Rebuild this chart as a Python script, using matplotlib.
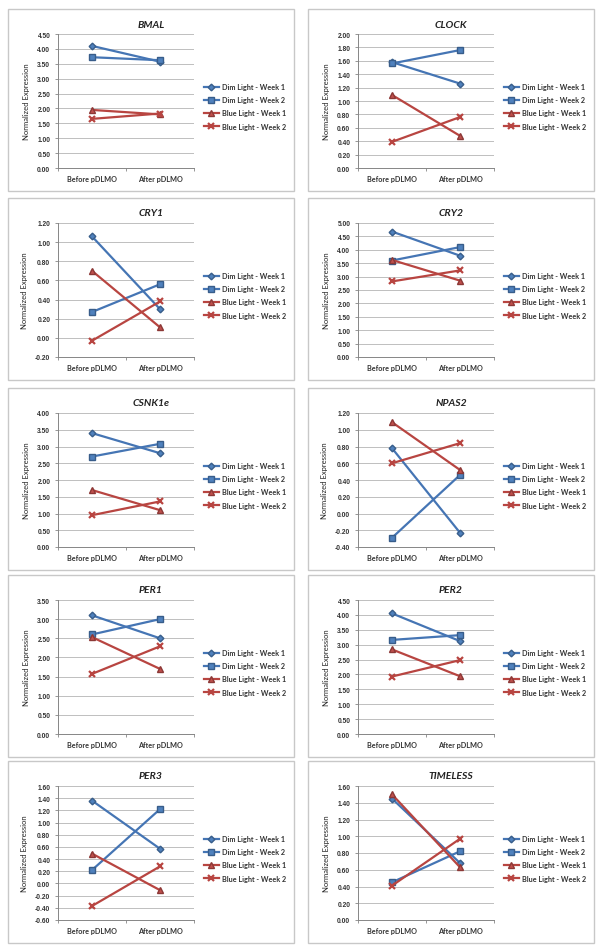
import matplotlib.pyplot as plt
import matplotlib.patches as patches
import numpy as np

genes = ['BMAL', 'CLOCK', 'CRY1', 'CRY2', 'CSNK1e', 'NPAS2', 'PER1', 'PER2', 'PER3', 'TIMELESS']
categories = ['Before pDLMO', 'After pDLMO']
series_labels = ['Dim Light - Week 1', 'Dim Light - Week 2', 'Blue Light - Week 1', 'Blue Light - Week 2']

dim_w1_before = [4.10, 1.58, 1.06, 4.68, 3.40, 0.78, 3.10, 4.05, 1.36, 1.45]
dim_w1_after = [3.57, 1.26, 0.30, 3.78, 2.80, -0.23, 2.50, 3.12, 0.57, 0.68]
dim_w2_before = [3.72, 1.56, 0.27, 3.60, 2.70, -0.29, 2.60, 3.16, 0.22, 0.45]
dim_w2_after = [3.62, 1.76, 0.56, 4.10, 3.08, 0.46, 3.00, 3.32, 1.22, 0.82]
blue_w1_before = [1.95, 1.09, 0.70, 3.62, 1.70, 1.09, 2.53, 2.84, 0.49, 1.50]
blue_w1_after = [1.80, 0.48, 0.11, 2.85, 1.10, 0.52, 1.70, 1.94, -0.11, 0.63]
blue_w2_before = [1.65, 0.39, -0.03, 2.82, 0.95, 0.60, 1.57, 1.93, -0.37, 0.41]
blue_w2_after = [1.83, 0.76, 0.38, 3.23, 1.36, 0.84, 2.29, 2.48, 0.28, 0.97]

y_min = [0, 0, -0.2, 0, 0, -0.4, 0, 0, -0.6, 0]
y_max = [4.5, 2.0, 1.2, 5.0, 4.0, 1.2, 3.5, 4.5, 1.6, 1.6]
y_step = [0.5, 0.2, 0.2, 0.5, 0.5, 0.2, 0.5, 0.5, 0.2, 0.2]

W, H = 600, 953
BLUE = '#4575B4'
RED = '#B84541'
styles = [
    dict(color=BLUE, marker='D', markersize=3.4, mfc='#4F81BD', mec='#385D8A'),
    dict(color=BLUE, marker='s', markersize=4.6, mfc='#4F81BD', mec='#385D8A'),
    dict(color=RED, marker='^', markersize=4.6, mfc='#C0504D', mec='#8C3836'),
    dict(color=RED, marker='x', markersize=4.0, mec='#B84541', mew=1.6),
]

plt.rcParams['font.family'] = ['Lato', 'DejaVu Sans']
TICKFONT = ['Liberation Sans', 'DejaVu Sans']

fig = plt.figure(figsize=(W / 100, H / 100), dpi=100)

row_tops = [10, 199, 389, 576, 762]
col_lefts = [8, 308]
box_w, box_h = 286, 182


def fx(px):
    return px / W


def fy(px):
    return 1 - px / H


for i, gene in enumerate(genes):
    r, c = divmod(i, 2)
    x0, y0 = col_lefts[c], row_tops[r]
    # panel frame
    fig.patches.append(patches.Rectangle((fx(x0), fy(y0 + box_h)), box_w / W, box_h / H,
                                         transform=fig.transFigure, fill=False,
                                         edgecolor='#C8C8C8', lw=1.0))
    ax = fig.add_axes([fx(x0 + 50), fy(y0 + 25 + 134), 136 / W, 134 / H])
    vals = [(dim_w1_before[i], dim_w1_after[i]), (dim_w2_before[i], dim_w2_after[i]),
            (blue_w1_before[i], blue_w1_after[i]), (blue_w2_before[i], blue_w2_after[i])]
    for v, lab, st in zip(vals, series_labels, styles):
        ax.plot([0, 1], v, lw=1.6, label=lab, **st)

    ticks = np.round(np.arange(y_min[i], y_max[i] + y_step[i] / 2, y_step[i]), 2)
    ax.set_ylim(y_min[i], y_max[i])
    ax.set_yticks(ticks)
    ax.set_yticklabels(['%.2f' % t for t in ticks])
    ax.set_xlim(-0.5, 1.5)
    ax.set_xticks([0, 1])
    ax.set_xticklabels(categories)
    ax.set_xticks([-0.5, 0.5, 1.5], minor=True)
    ax.tick_params(axis='x', which='major', length=0, labelsize=5.2, pad=5)
    ax.tick_params(axis='x', which='minor', length=2.5, width=0.6, color='#868686')
    ax.tick_params(axis='y', length=2.5, width=0.6, color='#868686', labelsize=4.8, pad=3)
    for lbl in ax.get_xticklabels():
        lbl.set_fontweight('bold')
        lbl.set_color('#333333')
    for lbl in ax.get_yticklabels():
        lbl.set_family(TICKFONT)
        lbl.set_fontweight('bold')
        lbl.set_color('#333333')
    ax.grid(axis='y', color='#B4B4B4', lw=0.6)
    ax.set_axisbelow(True)
    for s in ['top', 'right']:
        ax.spines[s].set_visible(False)
    for s in ['left', 'bottom']:
        ax.spines[s].set_color('#868686')
        ax.spines[s].set_linewidth(0.7)
    ax.set_ylabel('Normalized Expression', fontsize=5.5, color='#222222', labelpad=5)

    fig.text(fx(x0 + box_w / 2), fy(y0 + 15), gene, ha='center', va='center',
             fontsize=7.5, fontweight='bold', style='italic', color='#222222')

    leg = ax.legend(loc='center left', bbox_to_anchor=(1.07, 0.46), frameon=False,
                    fontsize=5.2, handlelength=2.2, handletextpad=0.3,
                    labelspacing=0.85, borderpad=0, borderaxespad=0)
    for t in leg.get_texts():
        t.set_fontweight('bold')
        t.set_color('#333333')

fig.savefig('out.png', dpi=100, facecolor='white')
